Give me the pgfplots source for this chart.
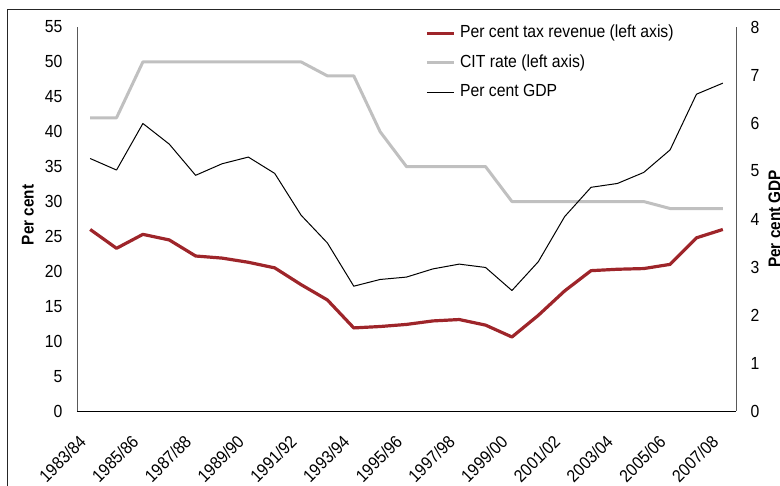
\documentclass[border=0pt]{standalone}
\usepackage{pgfplots}
\pgfplotsset{compat=1.18}
\usepackage{fontspec}
\setmainfont{Liberation Sans}[FakeStretch=0.9]
\definecolor{taxred}{RGB}{158,37,42}
\definecolor{citgrey}{RGB}{192,192,192}
\newcommand\cf{\fontsize{17.5}{21}\selectfont}
\newcommand\lf{\fontsize{17}{20}\selectfont\bfseries}
\begin{document}
\begin{tikzpicture}
\useasboundingbox (-77pt,-75pt) rectangle (703pt,411pt);
\draw[line width=1pt,black!85] (-69.7pt,-120pt) -- (-69.7pt,401.7pt) -- (820pt,401.7pt);
\pgfplotsset{
  base/.style={
    scale only axis, width=659pt, height=384pt,
    xmin=-0.5, xmax=24.5,
    major tick length=0pt,
    /pgf/number format/assume math mode=true,
    tick label style={font=\cf},
    axis line style={-},
  }
}
\begin{axis}[base,
  ymin=0, ymax=55, ytick={0,5,...,55},
  axis x line*=bottom, axis y line*=left,
  x axis line style={draw=black, line width=0.9pt},
  y axis line style={draw=black!65, line width=0.9pt},
  xtick={0,2,...,24},
  xticklabels={1983/84,1985/86,1987/88,1989/90,1991/92,1993/94,1995/96,1997/98,1999/00,2001/02,2003/04,2005/06,2007/08},
  xticklabel style={xshift=-7.5pt, yshift=-27.5pt, rotate=45, anchor=east, inner sep=0pt},
  yticklabel style={anchor=east, inner sep=0pt, xshift=-14.5pt},
  ylabel={Per cent},
  every axis y label/.style={at={(axis description cs:-0.0744,0.5104)}, rotate=90, anchor=center, font=\lf},
]
\addplot[taxred, line width=3.2pt, line join=round] coordinates {
(0,26.0) (1,23.3) (2,25.3) (3,24.5) (4,22.2) (5,21.9) (6,21.3) (7,20.5) (8,18.1) (9,15.9)
(10,11.9) (11,12.1) (12,12.4) (13,12.9) (14,13.1) (15,12.3) (16,10.6) (17,13.7) (18,17.2)
(19,20.1) (20,20.3) (21,20.4) (22,21.0) (23,24.8) (24,26.0)};
\addplot[citgrey, line width=3pt, line join=round] coordinates {
(0,42) (1,42) (2,50) (3,50) (4,50) (5,50) (6,50) (7,50) (8,50) (9,48) (10,48) (11,40)
(12,35) (13,35) (14,35) (15,35) (16,30) (17,30) (18,30) (19,30) (20,30) (21,30) (22,29) (23,29) (24,29)};
\end{axis}
\begin{axis}[base,
  ymin=0, ymax=8, ytick={0,1,...,8},
  axis x line=none, axis y line*=right,
  y axis line style={draw=black!65, line width=0.9pt},
  yticklabel style={anchor=west, inner sep=0pt, xshift=14.5pt},
  ylabel={Per cent GDP},
  every axis y label/.style={at={(axis description cs:1.0584,0.5)}, rotate=90, anchor=center, font=\lf},
  legend style={at={(axis description cs:0.528,1.006)}, anchor=north west, draw=none, fill=none,
    inner xsep=0pt, inner ysep=0pt, font=\cf, row sep=12.5pt,
    nodes={inner sep=0pt, text height=13pt, text depth=4pt}},
  legend cell align=left,
  legend image code/.code={\draw[#1] (0pt,0pt) -- (27.7pt,0pt);},
  legend style={column sep=4pt},
]
\addlegendimage{taxred, line width=3.2pt}
\addlegendentry{Per cent tax revenue (left axis)}
\addlegendimage{citgrey, line width=3pt}
\addlegendentry{CIT rate (left axis)}
\addplot[black, line width=1pt, line join=round] coordinates {
(0,5.26) (1,5.02) (2,5.99) (3,5.56) (4,4.91) (5,5.15) (6,5.29) (7,4.95) (8,4.08) (9,3.5)
(10,2.6) (11,2.74) (12,2.79) (13,2.96) (14,3.06) (15,2.99) (16,2.51) (17,3.11) (18,4.05)
(19,4.66) (20,4.74) (21,4.97) (22,5.44) (23,6.60) (24,6.83)};
\addlegendentry{Per cent GDP}
\end{axis}
\end{tikzpicture}
\end{document}
